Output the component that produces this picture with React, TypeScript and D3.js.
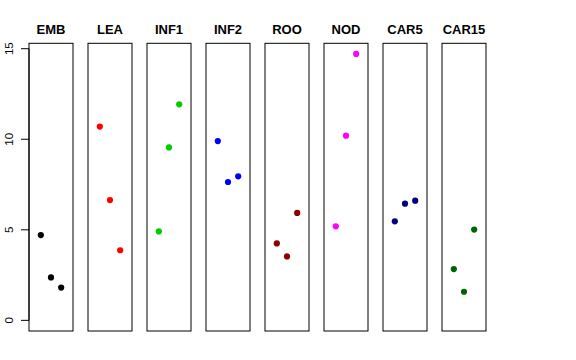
import React from "react";
import * as d3 from "d3";

const categories = ["EMB", "LEA", "INF1", "INF2", "ROO", "NOD", "CAR5", "CAR15"];
const colors = ["#000000", "#FF0000", "#00CD00", "#0000FF", "#8B0000", "#FF00FF", "#000080", "#006400"];
const values: number[][] = [
  [4.71, 2.37, 1.81],
  [10.7, 6.64, 3.87],
  [4.91, 9.55, 11.93],
  [9.9, 7.64, 7.95],
  [4.25, 3.53, 5.93],
  [5.19, 10.2, 14.71],
  [5.47, 6.44, 6.61],
  [2.83, 1.58, 5.01],
];
const yTicks = [0, 5, 10, 15];

export default function App() {
  const W = 576, H = 360;
  const panelLeft0 = 29, panelStep = 59, panelW = 44;
  const top = 43.3, bottom = 331;
  const yMax = 14.71;
  const ext = yMax * 0.04;
  const y = d3.scaleLinear().domain([-ext, yMax + ext]).range([bottom, top]);
  const x = d3.scaleLinear().domain([-0.16, 4.16]).range([0, panelW]);
  const font = "Liberation Sans, Arial, Helvetica, sans-serif";
  return (
    <svg width={W} height={H} style={{ position: "absolute", left: 0, top: 0, background: "#fff" }}>
      {categories.map((c, i) => {
        const x0 = panelLeft0 + i * panelStep;
        return (
          <g key={c} transform={`translate(${x0},0)`}>
            <rect x={0} y={top} width={panelW} height={bottom - top} fill="none" stroke="#000" strokeWidth={1} />
            <text x={panelW / 2} y={34} textAnchor="middle" fontFamily={font} fontWeight="bold" fontSize={13}>{c}</text>
            {values[i].map((v, j) => (
              <circle key={j} cx={x(j + 1)} cy={y(v)} r={3.1} fill={colors[i]} />
            ))}
          </g>
        );
      })}
      <g>
        <line x1={panelLeft0} x2={panelLeft0} y1={y(0)} y2={y(15)} stroke="#000" />
        {yTicks.map((t) => (
          <g key={t}>
            <line x1={21} x2={panelLeft0} y1={y(t)} y2={y(t)} stroke="#000" />
            <text transform={`translate(12.5,${y(t)}) rotate(-90)`} textAnchor="middle" fontFamily={font} fontSize={11.5}>{t}</text>
          </g>
        ))}
      </g>
    </svg>
  );
}
